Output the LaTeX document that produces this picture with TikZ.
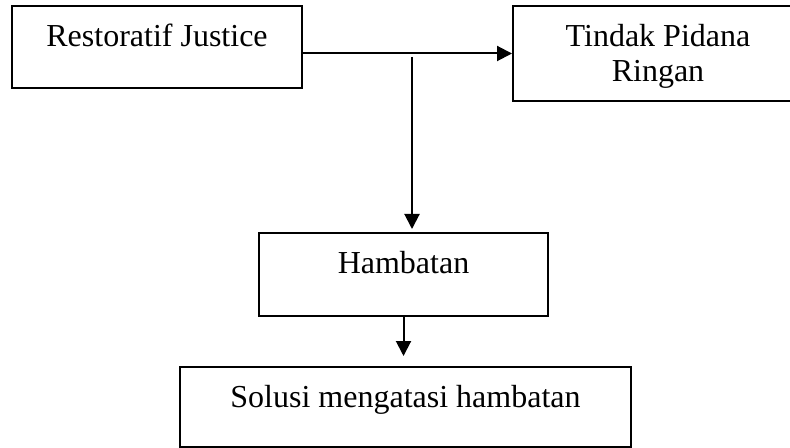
\documentclass[tikz,border=0pt]{standalone}
\usepackage{fontspec}
\setmainfont{Liberation Serif}
\usetikzlibrary{arrows.meta}
\begin{document}
\begin{tikzpicture}[x=0.5pt,y=-0.5pt,line width=1pt,>={Triangle[length=7.5pt,width=7.5pt]},
				box node/.style = {rectangle,draw,inner sep=0pt,align=center,font=\fontsize{16}{17.5}\selectfont}]
				\useasboundingbox (0,0) rectangle (790,448);
				\clip (0,0) rectangle (790,448);
				
				\node[box node,minimum width=145pt,text height=20.35pt,text depth=20.65pt] at (157,47) (1) {Restoratif Justice};
				\node[box node,minimum width=145pt,text height=38pt,text depth=9.5pt] at (658,53.5) (2) {Tindak Pidana\\Ringan};
				\node[box node,minimum width=144.5pt,text height=20pt,text depth=21.5pt] at (403.5,274.5) (3) {Hambatan};
				\node[box node,minimum width=225.5pt,text height=20pt,text depth=20pt] at (405.5,407) (4) {Solusi mengatasi hambatan};
				\coordinate (s) at (412,57);
				
				\draw[->] (1.east |- 2.west) -- (2.west);
				\draw[->,shorten >=1.5pt] (s) -- (s |- 3.north);
				\draw[->,shorten >=5pt] (3.south) -- (3.south |- 4.north);
				\end{tikzpicture}
\end{document}
